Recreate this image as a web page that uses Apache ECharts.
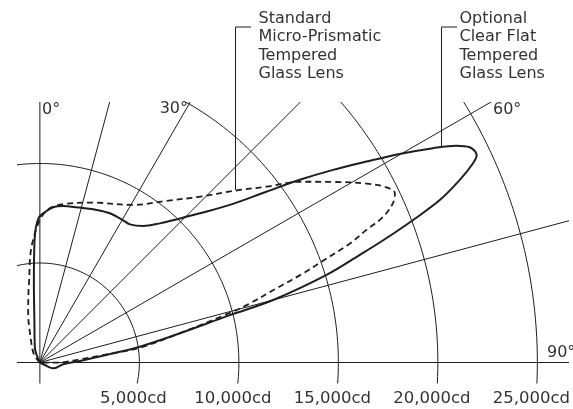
<!DOCTYPE html>
<html>
<head>
<meta charset="utf-8">
<script src="https://cdn.jsdelivr.net/npm/echarts@6/dist/echarts.min.js"></script>
<style>html,body{margin:0;padding:0;background:#fff}#c{width:573px;height:409px}</style>
</head>
<body>
<div id="c"></div>
<script>
// Candela rings (radial scale) and their labels
const ringValues = [5000, 10000, 15000, 20000, 25000];
const ringLabels = ['5,000cd', '10,000cd', '15,000cd', '20,000cd', '25,000cd'];
// Spoke angles in degrees (0 = straight up, 90 = horizontal right)
const spokeAngles = [0, 15, 30, 45, 60, 75, 90];
const angleLabels = ['0°', '30°', '60°', '90°'];
const seriesNames = ['Standard Micro-Prismatic Tempered Glass Lens', 'Optional Clear Flat Tempered Glass Lens'];

// Standard (dashed) distribution: angle (deg) / candela
const standardAngles = [-90, -36.9, -18.4, -13.4, -9.3, -7.4, -4.9, -2.2, 0.7, 3.7, 8.4, 18.4, 30.6, 38.1, 44, 48.4, 52.2, 55.2, 58.4, 61.3, 63.2, 64.5, 65.7, 67, 67.9, 69, 70.3, 71.3, 72.6, 74.5, 75.5, 78.2, 81.6, 82.8, 85.4, 90.7, 100];
const standardCd     = [0, 500, 1590, 2540, 3560, 4180, 5510, 6500, 7330, 7765, 8050, 8465, 9200, 10325, 11580, 12985, 14420, 15915, 17315, 18725, 19520, 19765, 19470, 18745, 17715, 16690, 15035, 13970, 12460, 10780, 9700, 7185, 5080, 3705, 2015, 840, 0];

// Optional (solid) distribution: angle (deg) / candela
const optionalAngles = [-90, -18.4, -7.8, -4.3, -2.6, -1.7, -0.4, 1.3, 4.9, 8.5, 13.3, 20.4, 25.1, 30.2, 33.1, 37.1, 40.8, 44.2, 47, 50.6, 53, 54.9, 56.7, 58.4, 59.9, 61.4, 62.5, 63.4, 64.6, 65.3, 66.5, 67.9, 69.1, 70.4, 71.4, 73, 75, 76, 78.2, 81, 82.8, 87.9, 94.4, 113.6, 116.6, 120];
const optionalCd     = [0, 800, 2030, 4030, 6035, 6790, 7290, 7500, 7830, 7950, 8015, 8175, 8280, 8285, 8285, 8600, 9235, 10100, 10995, 12560, 14260, 15965, 17630, 19270, 20900, 22500, 23600, 24160, 24300, 23960, 23010, 21690, 20080, 18315, 16965, 15065, 12135, 9840, 7185, 5085, 3715, 2010, 1175, 730, 280, 0];

function toXY(deg, cd) {
  const t = deg * Math.PI / 180;
  return [cd * Math.sin(t), cd * Math.cos(t)];
}

const LINE = '#1e1e1e';
const TEXT = '#333333';
const FONT = '"DejaVu Sans", sans-serif';

const series = [];
// ring arcs
ringValues.forEach(function (r) {
  const pts = [];
  for (let a = -180; a <= 180; a += 1) pts.push(toXY(a, r));
  series.push({type: 'line', data: pts, showSymbol: false, symbol: 'none', silent: true, clip: true,
    lineStyle: {color: LINE, width: 1}, z: 1});
});
// spokes
spokeAngles.forEach(function (a) {
  const start = (a === 0) ? toXY(180, 40000) : (a === 90 ? toXY(-90, 40000) : [0, 0]);
  series.push({type: 'line', data: [start, toXY(a, 40000)], showSymbol: false, symbol: 'none', silent: true, clip: true,
    lineStyle: {color: LINE, width: 1}, z: 1});
});
// distributions
series.push({name: seriesNames[0], type: 'line', smooth: 0.35, showSymbol: false, symbol: 'none', clip: true,
  data: standardAngles.map(function (a, i) { return toXY(a, standardCd[i]); }),
  lineStyle: {color: LINE, width: 1.8, type: [6, 4]}, z: 3});
series.push({name: seriesNames[1], type: 'line', smooth: 0.35, showSymbol: false, symbol: 'none', clip: true,
  data: optionalAngles.map(function (a, i) { return toXY(a, optionalCd[i]); }),
  lineStyle: {color: LINE, width: 2}, z: 4});

const chart = echarts.init(document.getElementById('c'), null, {renderer: 'canvas'});
chart.setOption({
  animation: false,
  backgroundColor: '#fff',
  grid: {left: 18, right: 5, top: 102.5, bottom: 26, containLabel: false},
  xAxis: {type: 'value', min: -1100, max: 26530,
    axisLine: {show: false, onZero: false}, axisTick: {show: false}, splitLine: {show: false},
    axisLabel: {customValues: ringValues, formatter: function (v) { return ringLabels[ringValues.indexOf(v)]; },
      fontSize: 16.5, fontFamily: FONT, color: TEXT, margin: 7, padding: [0, 12, 0, 0]}},
  yAxis: {type: 'value', min: -1030, max: 13065, show: false},
  series: series,
  graphic: [
    {type: 'text', x: 42, y: 110, style: {text: angleLabels[0], font: '16px ' + FONT, fill: TEXT, align: 'left', verticalAlign: 'middle'}},
    {type: 'text', x: 188, y: 109, style: {text: angleLabels[1], font: '16px ' + FONT, fill: TEXT, align: 'right', verticalAlign: 'middle'}},
    {type: 'text', x: 493, y: 110, style: {text: angleLabels[2], font: '16px ' + FONT, fill: TEXT, align: 'left', verticalAlign: 'middle'}},
    {type: 'text', x: 547, y: 353, style: {text: angleLabels[3], font: '16px ' + FONT, fill: TEXT, align: 'left', verticalAlign: 'middle'}},
    {type: 'text', x: 258.5, y: 9.5, style: {text: 'Standard\nMicro-Prismatic\nTempered\nGlass Lens', font: '16px ' + FONT, lineHeight: 18.4, fill: TEXT, align: 'left', verticalAlign: 'top'}},
    {type: 'text', x: 459.5, y: 9.5, style: {text: 'Optional\nClear Flat\nTempered\nGlass Lens', font: '16px ' + FONT, lineHeight: 18.4, fill: TEXT, align: 'left', verticalAlign: 'top'}},
    {type: 'polyline', shape: {points: [[251, 27], [235.5, 27], [235.5, 190]]}, style: {stroke: LINE, lineWidth: 1, fill: null}},
    {type: 'polyline', shape: {points: [[457, 27], [441.5, 27], [441.5, 146]]}, style: {stroke: LINE, lineWidth: 1, fill: null}}
  ]
});
</script>
</body>
</html>
